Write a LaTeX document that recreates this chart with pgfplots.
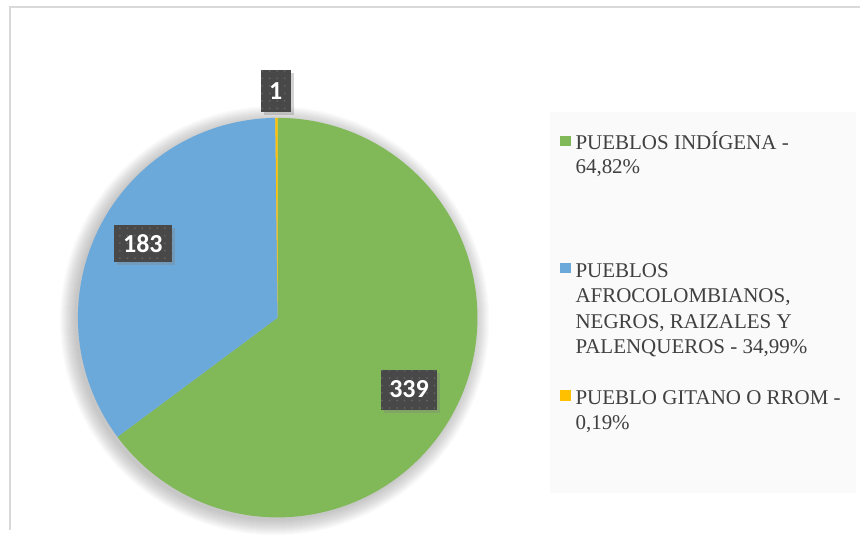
\documentclass[border=0pt]{standalone}
\usepackage{pgfplots}
\pgfplotsset{compat=1.18}
\usepackage{pgfplotstable}
\usepackage{fontspec}
\setmainfont{Liberation Serif}
\newfontfamily\carlito{Carlito}
\usetikzlibrary{shadows,patterns.meta}

\definecolor{pgreen}{RGB}{129,185,88}
\definecolor{pblue}{RGB}{108,169,219}
\definecolor{pyellow}{RGB}{255,192,0}
\definecolor{lblbox}{RGB}{72,72,72}
\definecolor{lbldot}{RGB}{100,100,100}
\definecolor{legtext}{RGB}{64,64,64}
\definecolor{bordergray}{RGB}{217,217,217}
\definecolor{legbg}{RGB}{250,250,250}

\pgfplotstableread{
grupo valor
indigena 339
afro 183
rrom 1
}\datatable

\begin{document}
\begin{tikzpicture}
\pgfplotstablegetelem{0}{valor}\of\datatable \edef\va{\pgfplotsretval}
\pgfplotstablegetelem{1}{valor}\of\datatable \edef\vb{\pgfplotsretval}
\pgfplotstablegetelem{2}{valor}\of\datatable \edef\vc{\pgfplotsretval}
\pgfmathsetmacro{\tot}{\va+\vb+\vc}
\pgfmathsetmacro{\aA}{90-360*(\va/\tot)}
\pgfmathsetmacro{\aB}{\aA-360*(\vb/\tot)}
\pgfmathsetmacro{\aC}{\aB-360*(\vc/\tot)}
\begin{axis}[width=861bp,height=531bp,scale only axis,
  xmin=0,xmax=861,ymin=0,ymax=531,hide axis,clip=false]
% full canvas
\path (axis cs:0,0) rectangle (axis cs:861,531);
% outer border (only top and left visible)
\draw[bordergray, line width=2bp] (axis cs:10,0) -- (axis cs:10,524) -- (axis cs:861,524);
% soft shadow of the pie
\pgfplotsinvokeforeach{1,...,16}{
  \addplot[draw=none, fill=black, fill opacity=0.016, domain=0:360, samples=120, variable=\t]
    ({275+(199+#1)*cos(t)},{210+(199+#1)*sin(t)}) -- cycle;
}
% slices
\addplot[fill=pgreen, draw=none, domain=\aA:90, samples=160, variable=\t]
  ({278+200*cos(t)},{213+200*sin(t)}) -- (axis cs:278,213) -- cycle;
\addplot[fill=pblue, draw=none, domain=\aB:\aA, samples=100, variable=\t]
  ({278+200*cos(t)},{213+200*sin(t)}) -- (axis cs:278,213) -- cycle;
\addplot[fill=pyellow, draw=none, domain=\aC:\aB, samples=5, variable=\t]
  ({278+200*cos(t)},{213+200*sin(t)}) -- (axis cs:278,213) -- cycle;
% data labels
\tikzset{lbl/.style={fill=lblbox, text=white, inner sep=0pt,
  font=\carlito\bfseries\fontsize{26bp}{30bp}\selectfont,
  postaction={pattern={Dots[distance=7.5bp, radius=1bp]}, pattern color=lbldot},
  drop shadow={shadow xshift=3bp,shadow yshift=-3bp,opacity=0.35}}}
\node[lbl, minimum width=57bp, minimum height=40bp] at (axis cs:409.5,141) {\va};
\node[lbl, minimum width=58bp, minimum height=37bp] at (axis cs:143,287.5) {\vb};
\node[lbl, minimum width=30bp, minimum height=42bp] at (axis cs:276,440) {\vc};
% legend
\fill[legbg] (axis cs:551,37) rectangle (axis cs:857,419);
\fill[pgreen] (axis cs:561,385) rectangle (axis cs:572,395);
\fill[pblue] (axis cs:561,258) rectangle (axis cs:572,268);
\fill[pyellow] (axis cs:561,130) rectangle (axis cs:572,141);
\tikzset{leg/.style={anchor=base west, inner sep=0pt, text=legtext,
  font=\fontsize{21bp}{25bp}\selectfont}}
\node[leg] at (axis cs:576,381) {PUEBLOS INDÍGENA -};
\node[leg] at (axis cs:576,357) {64,82\%};
\node[leg] at (axis cs:576,253) {PUEBLOS};
\node[leg] at (axis cs:576,228) {AFROCOLOMBIANOS,};
\node[leg] at (axis cs:576,202) {NEGROS, RAIZALES Y};
\node[leg] at (axis cs:576,177) {PALENQUEROS - 34,99\%};
\node[leg] at (axis cs:576,126) {PUEBLO GITANO O RROM -};
\node[leg] at (axis cs:576,101) {0,19\%};
\end{axis}
\end{tikzpicture}
\end{document}
